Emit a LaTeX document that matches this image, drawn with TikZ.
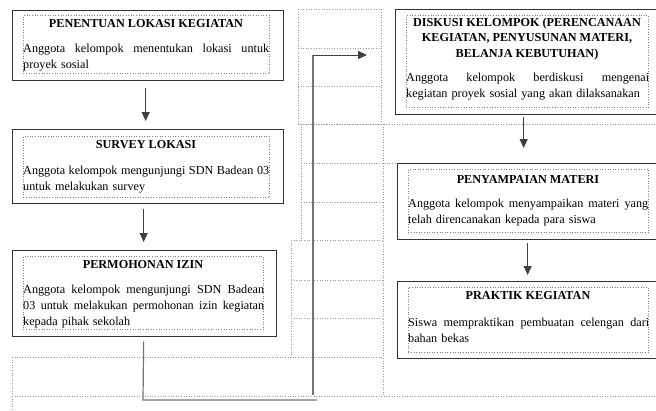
\documentclass[tikz,border=0pt]{standalone}
\usepackage{fontspec}
\setmainfont{Liberation Serif}
\usetikzlibrary{arrows.meta}
\tikzset{
  outerbox/.style={draw=black!80, line width=1.3pt, rectangle, inner sep=0pt, anchor=north west},
  innerbox/.style={draw=black!50, dotted, line width=0.6pt, rectangle, inner sep=0pt, anchor=north west},
  grid/.style={draw=black!40, dotted, line width=0.6pt},
  ttl/.style={inner sep=0pt, font=\fontsize{12.2pt}{15.5pt}\selectfont\bfseries, align=center},
  bodytxt/.style={inner sep=0pt, font=\fontsize{12.2pt}{16pt}\selectfont, align=left, anchor=base west},
  arr/.style={draw=black!75, line width=1pt, -{Triangle[length=9pt,width=8pt]}},
  conn/.style={draw=black!55, line width=1.2pt},
}
\newcommand{\jline}[2]{\leavevmode\hbox to #1{\spaceskip=0.25em plus 2em\relax #2}}
\begin{document}
\begin{tikzpicture}[x=1pt,y=-1pt]
\useasboundingbox (0,0) rectangle (656,410);
% table gridlines
\draw[grid] (298,9) rectangle (381,124);
\draw[grid] (298,48) -- (381,48);
\draw[grid] (298,86) -- (381,86);
\draw[grid] (298,124) -- (662,124);
\draw[grid] (301,124) -- (301,240);
\draw[grid] (383,124) -- (383,396);
\draw[grid] (301,163) -- (397,163);
\draw[grid] (301,202) -- (383,202);
\draw[grid] (291,240) -- (383,240);
\draw[grid] (291,240) -- (291,357);
\draw[grid] (291,280) -- (383,280);
\draw[grid] (291,318) -- (383,318);
\draw[grid] (12,357) -- (383,357);
\draw[grid] (12,357) -- (12,412);
\draw[grid] (12,396) -- (662,396);

% box 1
\node[outerbox, minimum width=271pt, minimum height=70pt] (b1) at (12,10) {};
\node[innerbox, minimum width=246pt, minimum height=58pt] (b1i) at (23,15) {};
\node[ttl, anchor=base] (b1t) at (146,27) {PENENTUAN LOKASI KEGIATAN};
\node[bodytxt, text width=246pt] (b1b) at (23,52) {\jline{246pt}{Anggota kelompok menentukan lokasi untuk}\\proyek sosial};

% box 2
\node[outerbox, minimum width=271pt, minimum height=74pt] (b2) at (12,129) {};
\node[innerbox, minimum width=246pt, minimum height=61pt] (b2i) at (23,136) {};
\node[ttl, anchor=base] (b2t) at (146,148) {SURVEY LOKASI};
\node[bodytxt, text width=246pt] (b2b) at (23,174) {\jline{246pt}{Anggota kelompok mengunjungi SDN Badean 03}\\untuk melakukan survey};

% box 3
\node[outerbox, minimum width=264pt, minimum height=86pt] (b3) at (12,250) {};
\node[innerbox, minimum width=240pt, minimum height=73pt] (b3i) at (23,256) {};
\node[ttl, anchor=base] (b3t) at (143,268) {PERMOHONAN IZIN};
\node[bodytxt, text width=240pt] (b3b) at (23,293) {\jline{241pt}{Anggota kelompok mengunjungi SDN Badean}\\\jline{241pt}{03 untuk melakukan permohonan izin kegiatan}\\kepada pihak sekolah};

% box 4
\node[outerbox, minimum width=267pt, minimum height=105pt] (b4) at (395,9) {};
\node[innerbox, minimum width=242pt, minimum height=92pt] (b4i) at (406,15) {};
\node[ttl, anchor=base] (b4t) at (527,57) {DISKUSI KELOMPOK (PERENCANAAN\\KEGIATAN, PENYUSUNAN MATERI,\\BELANJA KEBUTUHAN)};
\node[bodytxt, text width=242pt] (b4b) at (406,81) {\jline{243pt}{Anggota kelompok berdiskusi mengenai}\\kegiatan proyek sosial yang akan dilaksanakan};

% box 5
\node[outerbox, minimum width=265pt, minimum height=76pt] (b5) at (397,163) {};
\node[innerbox, minimum width=240pt, minimum height=63pt] (b5i) at (408,169) {};
\node[ttl, anchor=base] (b5t) at (528,183) {PENYAMPAIAN MATERI};
\node[bodytxt, text width=240pt] (b5b) at (408,207) {\jline{240pt}{Anggota kelompok menyampaikan materi yang}\\telah direncanakan kepada para siswa};

% box 6
\node[outerbox, minimum width=265pt, minimum height=77pt] (b6) at (397,281) {};
\node[innerbox, minimum width=240pt, minimum height=65pt] (b6i) at (408,287) {};
\node[ttl, anchor=base] (b6t) at (528,299) {PRAKTIK KEGIATAN};
\node[bodytxt, text width=240pt] (b6b) at (408,326) {\jline{241pt}{Siswa mempraktikan pembuatan celengan dari}\\bahan bekas};

% arrows
\draw[arr, shorten <=7pt, shorten >=8pt] ([xshift=-2.5pt]b1.south) -- ([xshift=-2.5pt]b2.north);
\draw[arr, shorten <=5pt, shorten >=8pt] ([xshift=-4.5pt]b2.south) -- ([xshift=-4.5pt]b2.south |- b3.north);
\draw[arr, shorten <=2pt, shorten >=15pt] ([xshift=-5.5pt]b4.south) -- ([xshift=-5.5pt]b4.south |- b5.north);
\draw[arr, shorten <=3pt, shorten >=6pt] ([xshift=-2.5pt]b5.south) -- ([xshift=-2.5pt]b6.north);

% long connector
\coordinate (c1) at (143,400);
\coordinate (c2) at (317,400);
\coordinate (c3) at (313,395);
\coordinate (c4) at (313,55);
\draw[conn] ([xshift=-1pt,yshift=-4pt]b3.south) -- (c1) -- (c2);
\draw[conn] (c3) -- (c4);
\draw[arr, shorten >=28pt] (c4) -- (c4 -| b4.west);
\end{tikzpicture}
\end{document}
